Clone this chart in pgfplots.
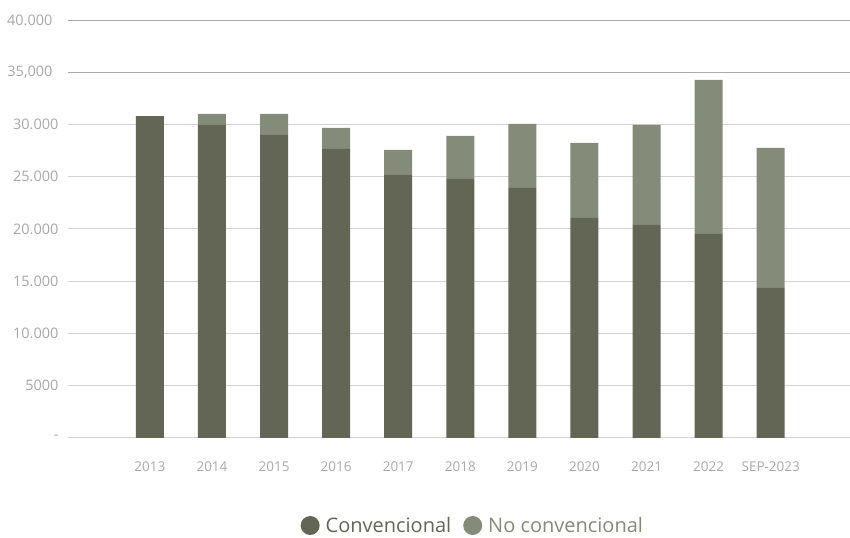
\documentclass[border=0pt]{standalone}
\usepackage{fontspec}
\setmainfont{Open Sans}
\usepackage{pgfplots}
\pgfplotsset{compat=1.18}
\definecolor{conv}{HTML}{636655}
\definecolor{noconv}{HTML}{848B79}
\definecolor{gridc}{HTML}{D3D3D3}
\definecolor{gridd}{HTML}{ABABAB}
\definecolor{tickc}{HTML}{A8A8A8}
\begin{document}
\begin{tikzpicture}
\begin{axis}[
  scale only axis,
  width=782pt, height=418pt,
  xmin=-1.32, xmax=11.27,
  ymin=0, ymax=40000,
  ybar stacked,
  bar width=28pt,
  axis line style={draw=none},
  major tick length=0pt,
  scaled y ticks=false,
  xtick={0,...,10},
  xticklabels={2013,2014,2015,2016,2017,2018,2019,2020,2021,2022,SEP-2023},
  ytick={0,5000,10000,15000,20000,25000,30000},
  yticklabels={-,5000,10.000,15.000,20.000,25.000,30.000},
  extra y ticks={35000,40000},
  extra y tick labels={{35,000},{40.000}},
  extra y tick style={grid style={color=gridd, line width=0.9pt},
     yticklabel style={font=\fontsize{14.5}{16}\selectfont, xshift=-6pt}},
  ymajorgrids,
  grid style={color=gridc, line width=0.9pt},
  tick label style={font=\fontsize{13.5}{15}\selectfont, text=tickc},
  yticklabel style={font=\fontsize{14.5}{16}\selectfont, xshift=-6pt},
  xticklabel style={yshift=-20pt},
  legend style={draw=none, at={(0.518,-0.21)}, anchor=center,
    font=\fontsize{20}{22}\selectfont, column sep=4pt,
    /tikz/every even column/.append style={column sep=10pt}},
  legend columns=-1,
  legend image code/.code={\fill[#1] (0pt,0pt) circle (9.5pt);},
  clip=false,
]
\addplot[fill=conv, draw=none] coordinates {
(0,30800) (1,29950) (2,29000) (3,27650) (4,25170) (5,24780) (6,23920) (7,21050) (8,20380) (9,19520) (10,14350)};
\addlegendentry{\textcolor{conv}{Convencional}}
\addplot[fill=noconv, draw=none] coordinates {
(0,0) (1,1050) (2,2000) (3,2020) (4,2390) (5,4120) (6,6130) (7,7180) (8,9570) (9,14740) (10,13400)};
\addlegendentry{\textcolor{noconv}{No convencional}}
\end{axis}
\path (-68pt,-95pt) rectangle ++(850pt,533pt);
\end{tikzpicture}
\end{document}
